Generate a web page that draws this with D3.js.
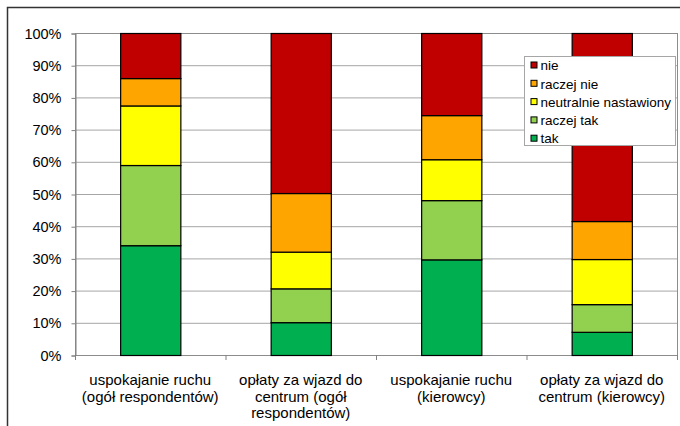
<!DOCTYPE html>
<html>
<head>
<meta charset="utf-8">
<script src="https://cdn.jsdelivr.net/npm/d3@7"></script>
<style>
  body { margin: 0; background: #fff; }
  svg { display: block; font-family: "Liberation Sans", Arial, sans-serif; }
</style>
</head>
<body>
<svg width="680" height="426"></svg>
<script>
// categories (x axis), each label split into lines
const categories = [
    ['uspokajanie ruchu', '(ogół respondentów)'],
    ['opłaty za wjazd do', 'centrum (ogół', 'respondentów)'],
    ['uspokajanie ruchu', '(kierowcy)'],
    ['opłaty za wjazd do', 'centrum (kierowcy)']
];

// answer groups, stacked from the bottom
const seriesNames = ['tak', 'raczej tak', 'neutralnie nastawiony', 'raczej nie', 'nie'];
const seriesColors = ['#00b050', '#92d050', '#ffff00', '#ffa500', '#c00000'];

// percentages per category, same order as seriesNames
const tak = [34.1, 10.2, 29.7, 7.2];
const raczejTak = [24.9, 10.5, 18.4, 8.6];
const neutralnie = [18.5, 11.4, 12.7, 14.0];
const raczejNie = [8.5, 18.2, 13.7, 11.8];
const nie = [14.0, 49.7, 25.5, 58.4];

const yTicks = [0, 10, 20, 30, 40, 50, 60, 70, 80, 90, 100];

const svg = d3.select('svg');
const margin = { top: 33, left: 75, right: 677, bottom: 355 };

// outer frame of the picture
svg.append('path')
    .attr('d', 'M7.5,430V7.5H690')
    .attr('fill', 'none')
    .attr('stroke', '#333')
    .attr('stroke-width', 1.5);

const x = d3.scaleBand()
    .domain(d3.range(categories.length))
    .range([margin.left, margin.right])
    .paddingInner(0.6)
    .paddingOuter(0.3);

const y = d3.scaleLinear()
    .domain([0, 100])
    .range([margin.bottom, margin.top]);

//gridlines
svg.append('g')
    .attr('transform', `translate(${margin.left},0)`)
    .call(d3.axisLeft(y).tickValues(yTicks).tickSize(-(margin.right - margin.left)).tickFormat(''))
    .call(g => g.select('.domain').remove())
    .call(g => g.selectAll('line').attr('stroke', '#a6a6a6'));

// plot area border
svg.append('rect')
    .attr('x', margin.left + 0.5)
    .attr('y', margin.top + 0.5)
    .attr('width', margin.right - margin.left)
    .attr('height', margin.bottom - margin.top)
    .attr('fill', 'none')
    .attr('stroke', '#8c8c8c');

// y axis
svg.append('g')
    .attr('transform', `translate(${margin.left + 0.5},0.5)`)
    .call(d3.axisLeft(y).tickValues(yTicks).tickSize(4).tickPadding(10).tickFormat(d => d + '%'))
    .call(g => g.select('.domain').attr('stroke', '#808080'))
    .call(g => g.selectAll('line').attr('stroke', '#808080'))
    .call(g => g.selectAll('text').attr('font-size', 14.5).attr('fill', '#000')
        .attr('font-family', '"Liberation Sans", Arial, sans-serif'));

// x axis ticks at category boundaries
const step = x.step();
svg.append('g')
    .selectAll('line')
    .data(d3.range(categories.length + 1))
    .enter().append('line')
    .attr('x1', i => margin.left + 0.5 + i * step)
    .attr('x2', i => margin.left + 0.5 + i * step)
    .attr('y1', margin.bottom)
    .attr('y2', margin.bottom + 5)
    .attr('stroke', '#808080');

// stacked bars
const rows = categories.map((c, i) => ({
    'tak': tak[i],
    'raczej tak': raczejTak[i],
    'neutralnie nastawiony': neutralnie[i],
    'raczej nie': raczejNie[i],
    'nie': nie[i],
    index: i
}));
const stacked = d3.stack().keys(seriesNames)(rows);
const color = d3.scaleOrdinal().domain(seriesNames).range(seriesColors);

svg.append('g')
    .selectAll('g')
    .data(stacked)
    .enter().append('g')
    .attr('fill', d => color(d.key))
    .selectAll('rect')
    .data(d => d)
    .enter().append('rect')
    .attr('x', d => x(d.data.index) + 0.5)
    .attr('y', d => y(d[1]) + 0.5)
    .attr('width', x.bandwidth())
    .attr('height', d => y(d[0]) - y(d[1]))
    .attr('stroke', '#000')
    .attr('stroke-width', 1.2);

// x labels
svg.append('g')
    .selectAll('text')
    .data(categories)
    .enter().append('text')
    .attr('text-anchor', 'middle')
    .attr('font-size', 15)
    .attr('fill', '#000')
    .each(function (lines, i) {
        d3.select(this).selectAll('tspan')
            .data(lines)
            .enter().append('tspan')
            .attr('x', x(i) + x.bandwidth() / 2)
            .attr('y', (_d, j) => 385 + j * 16.5)
            .text(d => d);
    });

// legend
const legend = svg.append('g').attr('transform', 'translate(524.5,56.5)');
legend.append('rect')
    .attr('width', 151)
    .attr('height', 89)
    .attr('fill', '#fff')
    .attr('stroke', '#a6a6a6');

const legendItems = legend.selectAll('g.item')
    .data(seriesNames.slice().reverse())
    .enter().append('g')
    .attr('class', 'item')
    .attr('transform', (_d, i) => `translate(6, ${9 + i * 18.3})`);

legendItems.append('rect')
    .attr('x', 0.5)
    .attr('y', -3.5)
    .attr('width', 6)
    .attr('height', 6)
    .attr('fill', color)
    .attr('stroke', '#000');

legendItems.append('text')
    .attr('x', 10)
    .attr('dy', '0.35em')
    .attr('font-size', 13.5)
    .attr('fill', '#000')
    .text(d => d);
</script>
</body>
</html>
